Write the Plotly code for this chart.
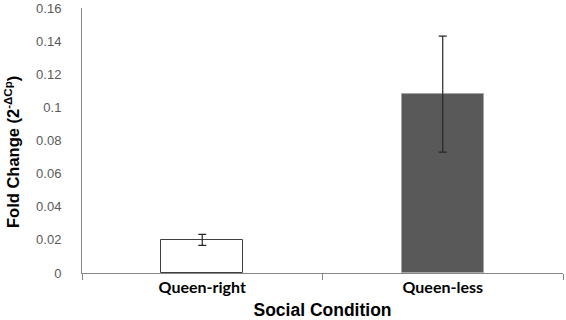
import plotly.graph_objects as go

categories = ["Queen-right", "Queen-less"]
values = [0.020, 0.108]
errors = [0.0033, 0.035]
tick_vals = [0, 0.02, 0.04, 0.06, 0.08, 0.1, 0.12, 0.14, 0.16]
tick_text = ["0", "0.02", "0.04", "0.06", "0.08", "0.1", "0.12", "0.14", "0.16"]

fig = go.Figure()
fig.add_trace(go.Bar(
    x=categories, y=values,
    width=0.34,
    marker=dict(color=["#ffffff", "#595959"],
                line=dict(color=["#404040", "#a6a6a6"], width=1)),
    error_y=dict(type="data", array=errors, visible=True,
                 color="#262626", thickness=1.2, width=4),
))

fig.update_layout(
    width=566, height=320,
    margin=dict(l=82, r=3, t=8, b=47),
    plot_bgcolor="white", paper_bgcolor="white",
    showlegend=False,
    bargap=0,
    xaxis=dict(
        type="category", automargin=False,
        showline=True, linecolor="#868686", linewidth=1,
        ticks="outside", tickson="boundaries", ticklen=6, tickcolor="#868686",
        tickfont=dict(family="Lato", size=16, color="#000000", weight="bold"),
        title=dict(text="Social Condition", standoff=9,
                   font=dict(family="Liberation Sans", size=17.5, color="#000000", weight="bold")),
        showgrid=False, zeroline=False,
    ),
    yaxis=dict(
        range=[0, 0.16], automargin=False,
        tickvals=tick_vals, ticktext=tick_text,
        showline=True, linecolor="#868686", linewidth=1,
        ticks="", ticklabelstandoff=17,
        tickfont=dict(family="Liberation Sans", size=13, color="#595959"),
        showgrid=False, zeroline=False,
    ),
    annotations=[dict(
        text="Fold Change (2<sup>-ΔCp</sup>)",
        xref="paper", yref="paper",
        x=(12 - 82) / 481, y=(273 - 152) / 265,
        xanchor="center", yanchor="middle",
        textangle=-90, showarrow=False,
        font=dict(family="Liberation Sans", size=16.5, color="#000000", weight="bold"),
    )],
)

fig.write_html("out.html", config={"displayModeBar": False},
               post_script="document.body.style.margin='0';")
